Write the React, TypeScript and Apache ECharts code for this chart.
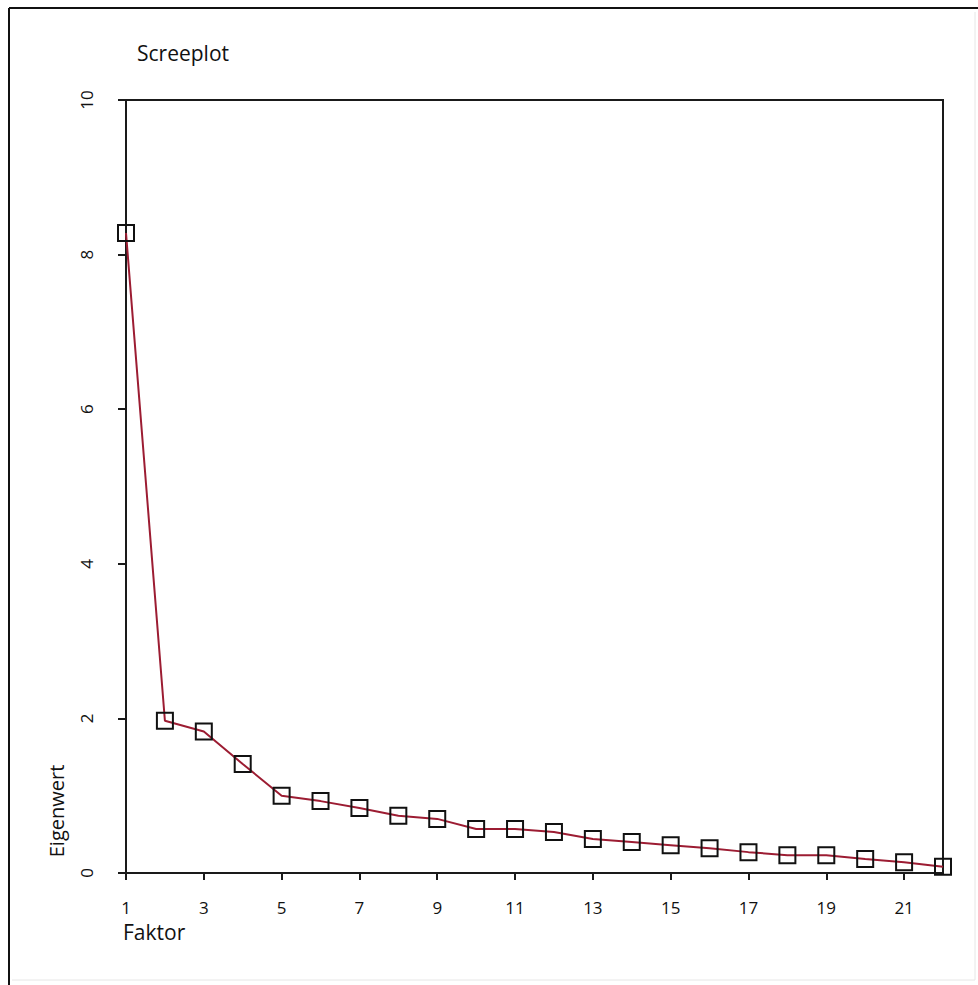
import React, { useEffect, useRef } from "react";
import * as echarts from "echarts";

const factors = ["1","2","3","4","5","6","7","8","9","10","11","12","13","14","15","16","17","18","19","20","21","22"];
const eigenvalues = [8.28, 1.97, 1.83, 1.41, 1.0, 0.93, 0.84, 0.74, 0.7, 0.57, 0.57, 0.53, 0.44, 0.4, 0.36, 0.32, 0.27, 0.23, 0.23, 0.18, 0.14, 0.08];
const titleText = "Screeplot";
const yName = "Eigenwert";
const xName = "Faktor";

const FONT = "'Open Sans', 'DejaVu Sans', sans-serif";

export default function App() {
  const ref = useRef<HTMLDivElement>(null);
  useEffect(() => {
    document.body.style.margin = "0";
    const chart = echarts.init(ref.current!, null, { renderer: "svg" });
    chart.setOption({
      animation: false,
      backgroundColor: "#ffffff",
      grid: {
        left: 126,
        top: 100,
        right: 35,
        bottom: 112,
        show: true,
        borderColor: "#1a1a1a",
        borderWidth: 2,
        backgroundColor: "transparent",
      },
      xAxis: {
        type: "category",
        data: factors,
        boundaryGap: false,
        axisLine: { lineStyle: { color: "#1a1a1a", width: 2 } },
        axisTick: { interval: 1, length: 7, lineStyle: { color: "#1a1a1a", width: 2 } },
        axisLabel: {
          interval: 1,
          margin: 26,
          color: "#111",
          fontSize: 17,
          fontFamily: FONT,
        },
        splitLine: { show: false },
      },
      yAxis: {
        type: "value",
        min: 0,
        max: 10,
        interval: 2,
        axisLine: { show: true, lineStyle: { color: "#1a1a1a", width: 2 } },
        axisTick: { show: true, length: 8, lineStyle: { color: "#1a1a1a", width: 2 } },
        axisLabel: {
          rotate: 90,
          margin: 31,
          color: "#111",
          fontSize: 17,
          fontFamily: FONT,
          align: "center",
          verticalAlign: "bottom",
        },
        splitLine: { show: false },
      },
      series: [
        {
          type: "line",
          data: eigenvalues,
          symbol: "rect",
          symbolSize: 16,
          showAllSymbol: true,
          lineStyle: { color: "#9c1c32", width: 2 },
          itemStyle: { color: "transparent", borderColor: "#111", borderWidth: 2 },
          emphasis: { disabled: true },
          z: 3,
        },
      ],
      graphic: [
        { type: "line", shape: { x1: 9, y1: 8, x2: 978, y2: 8 }, style: { stroke: "#111", lineWidth: 2 } },
        { type: "line", shape: { x1: 9, y1: 8, x2: 9, y2: 985 }, style: { stroke: "#111", lineWidth: 2 } },
        { type: "line", shape: { x1: 975, y1: 12, x2: 975, y2: 980 }, style: { stroke: "#e6e6e6", lineWidth: 1 } },
        { type: "line", shape: { x1: 12, y1: 980, x2: 975, y2: 980 }, style: { stroke: "#e6e6e6", lineWidth: 1 } },
        {
          type: "text",
          left: 137,
          top: 42,
          style: { text: titleText, fill: "#111", font: `21px ${FONT}` },
        },
        {
          type: "text",
          x: 56,
          y: 811,
          rotation: Math.PI / 2,
          style: { text: yName, fill: "#111", font: `20px ${FONT}`, align: "center", verticalAlign: "middle" },
        },
        {
          type: "text",
          left: 123,
          top: 921,
          style: { text: xName, fill: "#111", font: `21px ${FONT}` },
        },
      ],
    });
    return () => chart.dispose();
  }, []);
  return <div ref={ref} style={{ width: 978, height: 985 }} />;
}
